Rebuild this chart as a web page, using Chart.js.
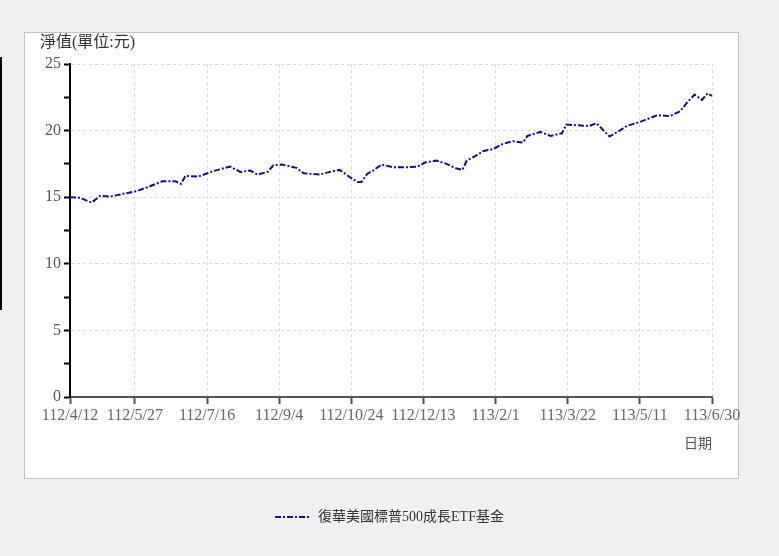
<!DOCTYPE html>
<html>
<head>
<meta charset="utf-8">
<script src="https://cdn.jsdelivr.net/npm/chart.js@4/dist/chart.umd.min.js"></script>
<style>
  html, body { margin: 0; padding: 0; background: #f0f0f0; }
  #wrap { position: relative; width: 779px; height: 556px; }
  #panel { position: absolute; left: 24px; top: 32px; width: 713px; height: 445px; background: #fff; border: 1px solid #c4c4c4; }
  #mark { position: absolute; left: 0; top: 57px; width: 2px; height: 253px; background: #000; }
  #myChart { position: absolute; left: 0; top: 0; }
</style>
</head>
<body>
<div id="wrap">
  <div id="panel"></div>
  <div id="mark"></div>
  <canvas id="myChart" width="779" height="556"></canvas>
</div>
<script>
// jours depuis 112/4/12
const dayOffsets = [0, 7, 15, 21, 28, 39, 46, 55, 64, 73, 77, 80, 89, 99, 111, 118, 125, 130, 137, 141,
  147, 157, 162, 173, 182, 187, 192, 199, 202, 206, 210, 216, 224, 234, 241, 246, 254, 261, 268, 272,
  275, 282, 286, 293, 300, 307, 314, 317, 326, 333, 341, 344, 351, 360, 365, 370, 374, 381, 386, 395,
  407, 416, 423, 428, 433, 438, 442, 445];
const navValues = [15.0, 14.95, 14.6, 15.1, 15.05, 15.3, 15.45, 15.8, 16.2, 16.2, 16.0, 16.6, 16.55, 16.95, 17.3, 16.9, 17.0, 16.7, 16.9, 17.4,
  17.45, 17.2, 16.8, 16.7, 16.95, 17.05, 16.65, 16.15, 16.15, 16.75, 17.0, 17.45, 17.25, 17.25, 17.3, 17.6, 17.75, 17.5, 17.15, 17.05,
  17.75, 18.15, 18.45, 18.6, 19.0, 19.2, 19.1, 19.6, 19.9, 19.6, 19.8, 20.45, 20.4, 20.35, 20.55, 20.0, 19.55, 20.0, 20.35, 20.65,
  21.15, 21.1, 21.45, 22.15, 22.7, 22.3, 22.8, 22.6];
const tickDays = [0, 45, 95, 145, 195, 245, 295, 345, 395, 445];
const tickLabels = ['112/4/12', '112/5/27', '112/7/16', '112/9/4', '112/10/24', '112/12/13', '113/2/1', '113/3/22', '113/5/11', '113/6/30'];

const serif = '"Liberation Serif", "Noto Sans CJK TC", serif';
const lineDash = [6, 2, 2, 2];

const yTitle = {
  id: 'yTitle',
  afterDraw(chart) {
    const c = chart.ctx;
    c.save();
    c.font = '16px ' + serif;
    c.fillStyle = '#333';
    c.textBaseline = 'middle';
    c.fillText('淨值(單位:元)', 40, 43);
    c.restore();
  }
};

const points = dayOffsets.map((d, i) => ({x: d, y: navValues[i]}));

new Chart(document.getElementById('myChart'), {
  type: 'line',
  data: {
    datasets: [{
      label: '復華美國標普500成長ETF基金',
      data: points,
      borderColor: '#10108a',
      backgroundColor: '#10108a',
      borderWidth: 2,
      borderDash: lineDash,
      pointRadius: 0,
      pointStyle: 'line',
      tension: 0
    }]
  },
  options: {
    responsive: false,
    animation: false,
    layout: { padding: { left: 0, right: 0, top: 64, bottom: 22 } },
    plugins: {
      legend: {
        position: 'bottom',
        labels: {
          usePointStyle: true,
          pointStyleWidth: 36,
          padding: 3,
          color: '#333',
          font: { family: serif, size: 14 },
          generateLabels: chart => Chart.defaults.plugins.legend.labels.generateLabels(chart)
            .map(l => Object.assign(l, { lineDash: lineDash, lineWidth: 2, strokeStyle: '#10108a' }))
        }
      },
      tooltip: { enabled: false }
    },
    scales: {
      x: {
        type: 'linear',
        min: 0,
        max: 445,
        afterBuildTicks: s => { s.ticks = tickDays.map(v => ({value: v})); },
        afterFit: s => { s.height = 110; },
        ticks: {
          autoSkip: false,
          maxRotation: 0,
          padding: 2,
          color: '#666',
          font: { family: serif, size: 16 },
          callback: v => tickLabels[tickDays.indexOf(v)]
        },
        grid: {
          color: '#d9d9d9',
          tickColor: '#555',
          tickLength: 7,
          tickWidth: 2,
          tickBorderDash: []
        },
        border: { color: '#555', width: 2, dash: [3, 3] },
        title: {
          display: true,
          text: '日期',
          align: 'end',
          color: '#555',
          font: { family: serif, size: 14 },
          padding: { top: 0, bottom: 54 }
        }
      },
      y: {
        min: 0,
        max: 25,
        afterBuildTicks: s => {
          const t = [];
          for (let v = 0; v <= 25; v += 2.5) t.push({value: v});
          s.ticks = t;
        },
        afterFit: s => { s.width = 70; },
        ticks: {
          autoSkip: false,
          padding: 3,
          color: '#555',
          font: { family: serif, size: 16 },
          callback: v => (v % 5 === 0 ? v : '')
        },
        grid: {
          color: ctx => (ctx.tick && ctx.tick.value % 5 === 0 ? '#d9d9d9' : 'rgba(0,0,0,0)'),
          tickColor: '#000',
          tickLength: 6,
          tickWidth: 2,
          tickBorderDash: []
        },
        border: { color: '#000', width: 2, dash: [3, 3] }
      },
      // marge droite réservée (pour centrer la légende sur la page)
      yRight: {
        position: 'right',
        min: 0,
        max: 25,
        afterFit: s => { s.width = 67; },
        ticks: { display: false },
        grid: { display: false },
        border: { display: false }
      }
    }
  },
  plugins: [yTitle]
});
</script>
</body>
</html>
